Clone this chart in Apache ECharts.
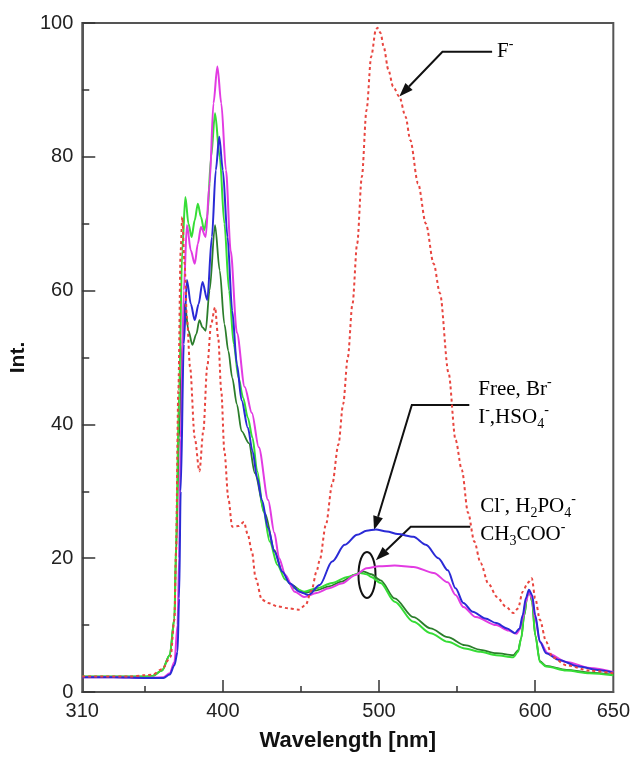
<!DOCTYPE html>
<html>
<head>
<meta charset="utf-8">
<script src="https://cdn.jsdelivr.net/npm/echarts@6/dist/echarts.min.js"></script>
<style>
  html, body { margin: 0; padding: 0; background: #fff; }
  #container { width: 633px; height: 760px; }
</style>
</head>
<body>
<div id="container"></div>
<script>
var dom = document.getElementById("container");
var myChart = echarts.init(dom);

// x tick labels and minor tick positions
var xLabels = [310, 400, 500, 600, 650];
var xMajorTicks = [400, 500, 600];
var xMinorTicks = [350, 450, 550];

// [wavelength nm, intensity]
var fluoride = [[310,2.3],[340,2.3],[350,2.5],[355,2.6],[361,3.4],[366.5,5.2],[369,10.8],[370,20.8],[371.5,45],[373,66],[374,71],[375.5,64],[377,56],[379,48.6],[382,38],[385,33],[387.5,39],[390,48.6],[392.5,55],[395,57.5],[397,53],[399,45],[401,36],[403.5,29],[406,24.7],[410,24.8],[413.5,25.4],[416,23.5],[418.6,21],[421,17],[425,13.8],[429,13.3],[435,12.8],[442,12.5],[448.5,12.3],[453,13],[456.8,15.2],[460,18],[462,19.7],[466,25],[470,31],[474,37],[477,43],[480,50],[483,58],[486,67],[489,77],[492,87],[495,95],[498,99],[499,99.3],[501,98.5],[503,96.4],[506,93],[509,90.5],[513,89],[517,86],[520,82.5],[525,76],[530,70],[535,64],[539,59.6],[544.5,47.7],[549,37.7],[553,33.2],[557,26.8],[561,22.5],[565,19.3],[570,16.2],[575.6,14.2],[581,12.8],[586,11.8],[589,12.5],[592,15],[594.6,16],[596,16.5],[597.8,17],[600,14],[603,10.8],[607,7.5],[611,5.2],[620,4],[635,3.2],[650,2.8]];

var freeBr = [[310,2.2],[330,2.2],[350,2.1],[362,2.1],[366,2.6],[369,4],[371,6],[372,14],[373,30],[375,52],[377,61.6],[379.5,58],[382,55.6],[384.5,58],[387,61.3],[390,58.6],[393,68],[395.5,78],[397.7,83],[400,78],[403,68],[406,57],[409,49],[412,43.6],[416,39.5],[419,36],[422,32],[425,28.7],[429,24.5],[433,21],[438,18],[443,16.2],[449,15],[455,14.5],[462,16],[470,19.5],[478,22],[486,23.5],[492,24.1],[498,24.3],[505,24],[512,23.6],[522,23.2],[530,22],[538,20],[544,18.2],[549,15.5],[554,13.3],[560,12],[568,11],[575,10.3],[582,9.5],[587,8.8],[590,9.5],[592,11.5],[594,14],[596,15.3],[598,14.5],[600,11.5],[603,7.5],[607,5.8],[615,4.8],[628,3.8],[640,3.3],[650,2.9]];

var iodideHso4 = [[310,2.2],[330,2.2],[350,2.1],[362,2.2],[366,2.8],[369,4.5],[371,10],[372,20],[373,38],[375,60],[377,69.8],[379.5,66],[382,64],[384,67],[386,69.5],[389,68],[391.5,76],[394,88],[396.5,93.5],[399,88],[402,78],[405,66],[409,53.7],[414,45.6],[418.6,41.7],[423,36.6],[429,28.7],[433,23.8],[436,20],[440,17.5],[446,15],[452,14.2],[460,14.8],[468,15.5],[476,16.2],[485,17.5],[492,18.5],[500,18.8],[510,18.9],[522,18.7],[535,17.8],[544,16.4],[549,14.5],[554,12.7],[562,11.2],[575,10],[583,9.2],[588,8.7],[590,9.3],[592,11],[594,13.5],[596,15],[598,14],[600,11],[603,7.5],[608,5.8],[620,4.5],[635,3.6],[650,3.0]];

var chloride = [[310,2.3],[330,2.3],[350,2.3],[355,2.4],[361,3.2],[366,5.5],[369,11],[370,22],[372,45],[374,66],[376,74],[378,70],[380,68],[382,70.5],[384,73],[386,71],[388,69],[390,71],[392.5,80],[395,86.5],[398,80],[401,70],[404,60],[407,52],[410,47],[413,44],[416,41],[419,38],[422,33],[426,27],[430,22.5],[435,19],[440,16.8],[446,15.5],[452,15],[460,15.5],[470,16.3],[480,17.2],[488,17.8],[492,17.6],[495,17.2],[501,16.3],[510,13.5],[522,10.5],[533,8.8],[544,7.5],[555,6.5],[565,6],[575,5.5],[586,5.2],[589,6],[591,8],[593,11.5],[595,14.5],[596.5,15],[598,13.5],[600,8.5],[603,4.5],[607,3.8],[620,3.2],[635,2.8],[650,2.5]];

var acetate = [[310,2.3],[330,2.3],[350,2.3],[355,2.4],[361,3.2],[366,5.5],[369,11],[370,20],[372,38],[374,52],[375.7,58],[378,54],[380.5,51.9],[383,53.5],[385,55.6],[387,54.5],[389,54],[391.5,60],[395,69.8],[398,63],[401,55],[403.5,51],[406,47],[409,43],[412,39],[416.7,37.2],[420.5,32.7],[427,26.7],[433,21.2],[438,18],[444,16],[452,14.8],[460,15.2],[468,15.8],[476,16.5],[484,17.5],[490,18],[495,17.6],[501,16.7],[510,14],[522,11.2],[533,9.5],[544,8.2],[555,7],[565,6.3],[575,5.8],[586,5.5],[589,6.2],[591,8],[593,11.5],[595,14.5],[596.5,15],[598,13.5],[600,8.5],[603,4.6],[607,3.9],[620,3.3],[635,2.9],[650,2.6]];

// annotation anchors in data units: arrow tip, elbow, end of leader, text spot
var noteF = { tip: [513, 89], elbow: [540.6, 95.7], end: [572.4, 95.7], text: [575.6, 95.7] };
var noteFree = { tip: [496.8, 24.2], elbow: [521, 42.9], end: [557.8, 42.9], text: [563.5, 43.2] };
var noteCl = { tip: [498, 19.7], elbow: [520.3, 24.7], end: [558.4, 24.7], text: [564.8, 25.6] };
var ringCenter = [492.3, 17.5];

function lineSeries(name, data, color, width, type) {
    return {
        name: name,
        type: 'line',
        data: data,
        showSymbol: false,
        smooth: 0.3,
        smoothMonotone: 'x',
        animation: false,
        lineStyle: { color: color, width: width, type: type || 'solid' }
    };
}

option = {
    backgroundColor: '#fff',
    animation: false,
    grid: {
        left: 79, right: 19, top: 23, bottom: 68,
        show: true, borderColor: '#555', borderWidth: 2
    },
    xAxis: [{
        type: 'value', min: 310, max: 650,
        name: 'Wavelength [nm]', nameLocation: 'middle', nameGap: 38,
        nameTextStyle: { fontFamily: 'Liberation Sans', fontWeight: 'bold', fontSize: 22, color: '#111' },
        axisLine: { lineStyle: { color: '#555', width: 2 } },
        axisTick: { inside: true, length: 12, customValues: xMajorTicks, lineStyle: { color: '#333', width: 1.5 } },
        axisLabel: { customValues: xLabels, margin: 9, fontFamily: 'Liberation Sans', fontSize: 20, color: '#222' },
        splitLine: { show: false }
    }, {
        type: 'value', min: 310, max: 650, position: 'bottom',
        axisLine: { show: false },
        axisTick: { inside: true, length: 6, customValues: xMinorTicks, lineStyle: { color: '#333', width: 1.5 } },
        axisLabel: { show: false },
        splitLine: { show: false }
    }],
    yAxis: {
        type: 'value', min: 0, max: 100, interval: 20,
        name: 'Int.', nameLocation: 'middle', nameGap: 48,
        nameTextStyle: { fontFamily: 'Liberation Sans', fontWeight: 'bold', fontSize: 21, color: '#111' },
        axisLine: { show: true, lineStyle: { color: '#555', width: 2 } },
        axisTick: { show: true, inside: true, length: 13, lineStyle: { color: '#333', width: 1.5 } },
        minorTick: { show: true, splitNumber: 2, length: 7, lineStyle: { color: '#333', width: 1.5 } },
        axisLabel: { margin: 9, fontFamily: 'Liberation Sans', fontSize: 20, color: '#222' },
        splitLine: { show: false }
    },
    series: [
        lineSeries('CH3COO-', acetate, '#2b7d2b', 1.8),
        lineSeries('Cl-, H2PO4-', chloride, '#36dd36', 2),
        lineSeries('I-, HSO4-', iodideHso4, '#e23be2', 2),
        lineSeries('Free, Br-', freeBr, '#2a2ad6', 2),
        lineSeries('F-', fluoride, '#e8453f', 2, [3, 3])
    ]
};

if (option && typeof option === "object") {
    myChart.setOption(option, true);
}

// leader lines with arrow heads, labels and the ring
var px = function (p) { return myChart.convertToPixel({ gridIndex: 0 }, p); };
var textRich = {
    m: { fontFamily: 'Liberation Serif', fontSize: 21, lineHeight: 28, color: '#111' },
    sp: { fontFamily: 'Liberation Serif', fontSize: 14, lineHeight: 14, verticalAlign: 'top', color: '#111' },
    sb: { fontFamily: 'Liberation Serif', fontSize: 14, lineHeight: 8, verticalAlign: 'bottom', color: '#111' }
};

function note(n, label) {
    var t = px(n.tip), e = px(n.elbow), d = px(n.end), s = px(n.text);
    var dx = t[0] - e[0], dy = t[1] - e[1];
    var len = Math.sqrt(dx * dx + dy * dy);
    var ux = dx / len, uy = dy / len;
    var bx = t[0] - ux * 14, by = t[1] - uy * 14;
    var nx = -uy * 5, ny = ux * 5;
    return [{
        type: 'polyline', silent: true,
        shape: { points: [d, e, [bx, by]] },
        style: { stroke: '#111', lineWidth: 2, fill: null }
    }, {
        type: 'polygon', silent: true,
        shape: { points: [t, [bx + nx, by + ny], [bx - nx, by - ny]] },
        style: { fill: '#111' }
    }, {
        type: 'text', silent: true, x: s[0], y: s[1],
        style: { text: label, rich: textRich, verticalAlign: 'middle', align: 'left' }
    }];
}

var ring = px(ringCenter);
var elements = []
    .concat(note(noteF, '{m|F}{sp|-}'))
    .concat(note(noteFree, '{m|Free, Br}{sp|-}\n{m|I}{sp|-}{m|,HSO}{sb|4}{sp|-}'))
    .concat(note(noteCl, '{m|Cl}{sp|-}{m|, H}{sb|2}{m|PO}{sb|4}{sp|-}\n{m|CH}{sb|3}{m|COO}{sp|-}'));
elements.push({
    type: 'ellipse', silent: true,
    shape: { cx: ring[0], cy: ring[1], rx: 8.5, ry: 23 },
    style: { fill: null, stroke: '#111', lineWidth: 2 }
});
myChart.setOption({ graphic: { elements: elements } });
</script>
</body>
</html>
